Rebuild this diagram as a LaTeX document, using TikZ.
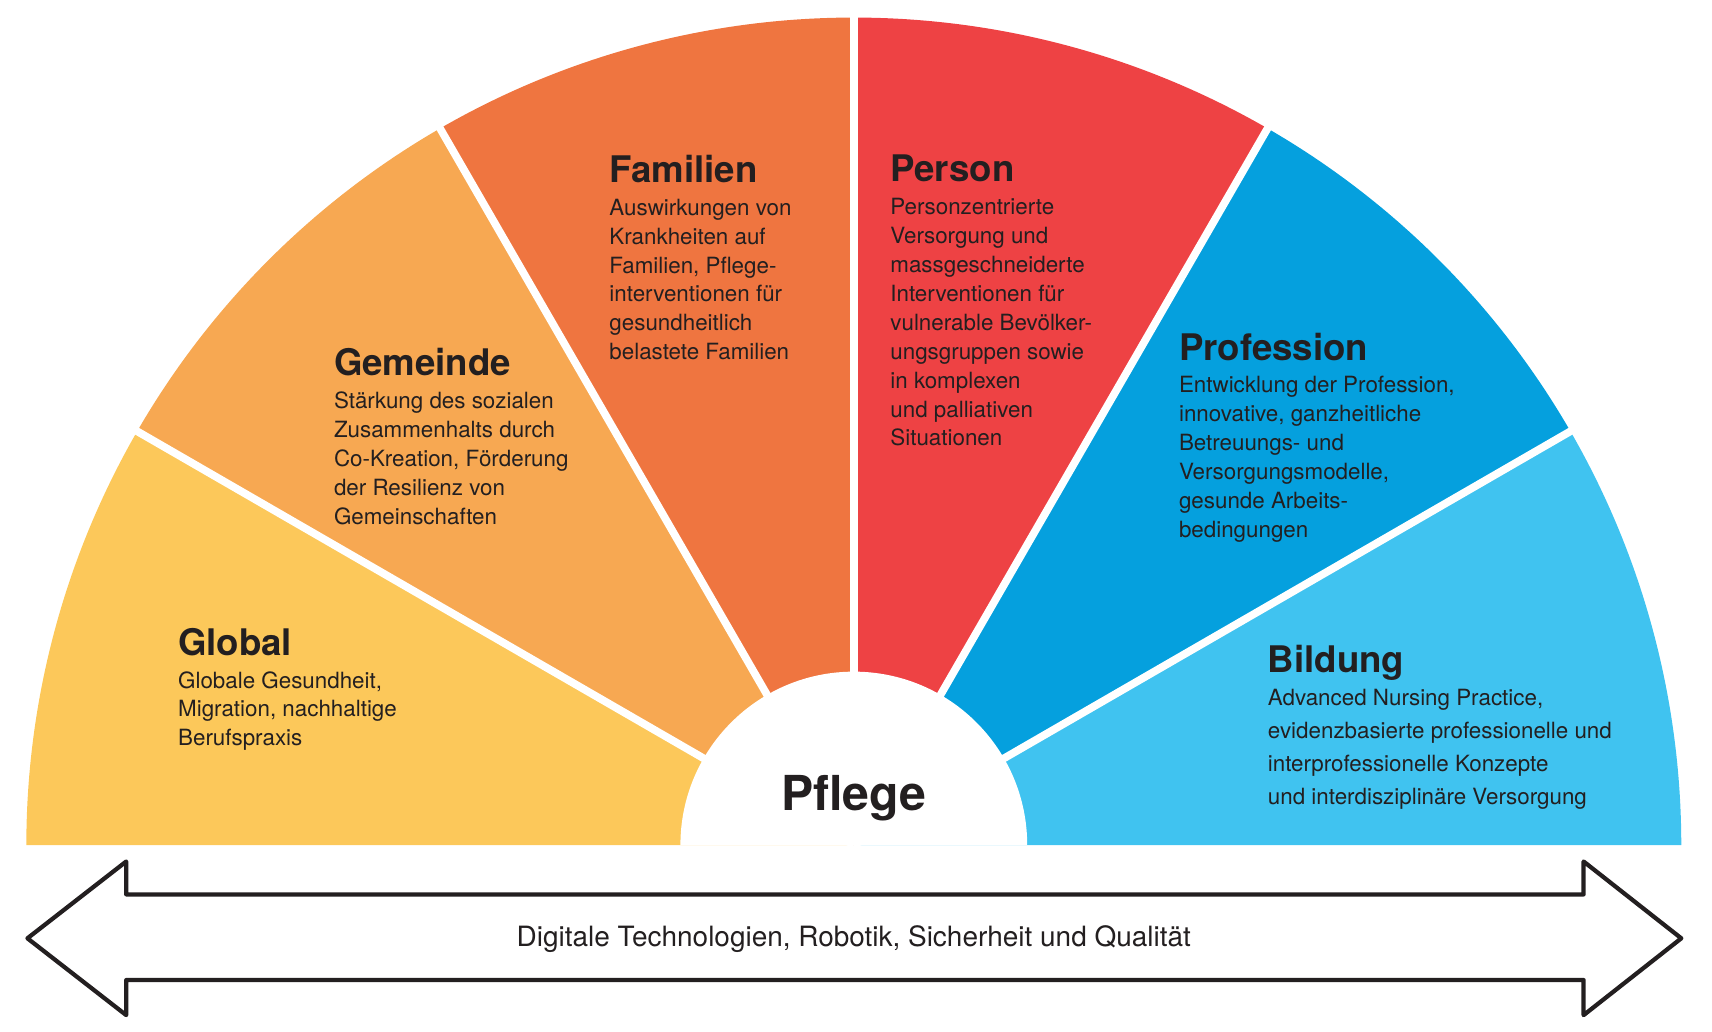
\documentclass[tikz,border=0pt]{standalone}
\usepackage{fontspec}
\setmainfont{TeX Gyre Heros}
\definecolor{cglobal}{HTML}{FCC85A}
\definecolor{cgemeinde}{HTML}{F7A852}
\definecolor{cfamilien}{HTML}{EF7540}
\definecolor{cperson}{HTML}{EE4244}
\definecolor{cprofession}{HTML}{05A0DE}
\definecolor{cbildung}{HTML}{40C3F0}
\definecolor{ctext}{HTML}{231F20}
\newcommand\ttlfont{\fontsize{19}{22}\selectfont\bfseries}
\begin{document}
\begin{tikzpicture}[x=0.02cm, y=-0.02cm, line join=round,
  txt/.style={anchor=north west, align=left, inner sep=0pt, text=ctext,
    font=\fontsize{11.6}{15}\selectfont}]
  \useasboundingbox (0,0) rectangle (1560,940);
  \coordinate (m) at (778,770);
  % sectors
  \foreach \a/\c in {180/cglobal,150/cgemeinde,120/cfamilien,90/cperson,60/cprofession,30/cbildung}
    \fill[\c] (m) -- ++(-\a:754) arc[start angle=-\a, end angle=-\a+30, radius=754] -- cycle;
  \foreach \a in {150,120,90,60,30}
    \draw[white, line width=4] (m) -- ++(-\a:756);
  \fill[white] (620,770) arc[start angle=-180, end angle=0, radius=158] -- cycle;
  \node[font=\fontsize{25}{28}\selectfont\bfseries, text=ctext] (pflege) at (778,727) {Pflege};
  % texts
  \node[txt] (global) at (162,572) {{\ttlfont Global}\\[2pt]Globale Gesundheit,\\Migration, nachhaltige\\Berufspraxis};
  \node[txt] (gemeinde) at (304,317) {{\ttlfont Gemeinde}\\[2pt]Stärkung des sozialen\\Zusammenhalts durch\\Co-Kreation, Förderung\\der Resilienz von\\Gemeinschaften};
  \node[txt] (familien) at (555,141) {{\ttlfont Familien}\\[2pt]Auswirkungen von\\Krankheiten auf\\Familien, Pflege-\\interventionen für\\gesundheitlich\\belastete Familien};
  \node[txt] (person) at (811,141) {{\ttlfont Person}\\[2pt]Personzentrierte\\Versorgung und\\massgeschneiderte\\Interventionen für\\vulnerable Bevölker-\\ungsgruppen sowie\\in komplexen\\und palliativen\\Situationen};
  \node[txt] (profession) at (1074,303) {{\ttlfont Profession}\\[2pt]Entwicklung der Profession,\\innovative, ganzheitliche\\Betreuungs- und\\Versorgungsmodelle,\\gesunde Arbeits-\\bedingungen};
  \node[txt, font=\fontsize{11.6}{17}\selectfont] (bildung) at (1155,588) {{\ttlfont Bildung}\\[0pt]Advanced Nursing Practice,\\evidenzbasierte professionelle und\\interprofessionelle Konzepte\\und interdisziplinäre Versorgung};
  % arrow
  \draw[line width=2.2, ctext] (25,855) -- (115,785) -- (115,815) -- (1443,815) -- (1443,785)
    -- (1532,855) -- (1443,925) -- (1443,893) -- (115,893) -- (115,925) -- cycle;
  \node[text=ctext, font=\fontsize{14.5}{17}\selectfont] (basis) at (778,856) {Digitale Technologien, Robotik, Sicherheit und Qualität};
\end{tikzpicture}
\end{document}
